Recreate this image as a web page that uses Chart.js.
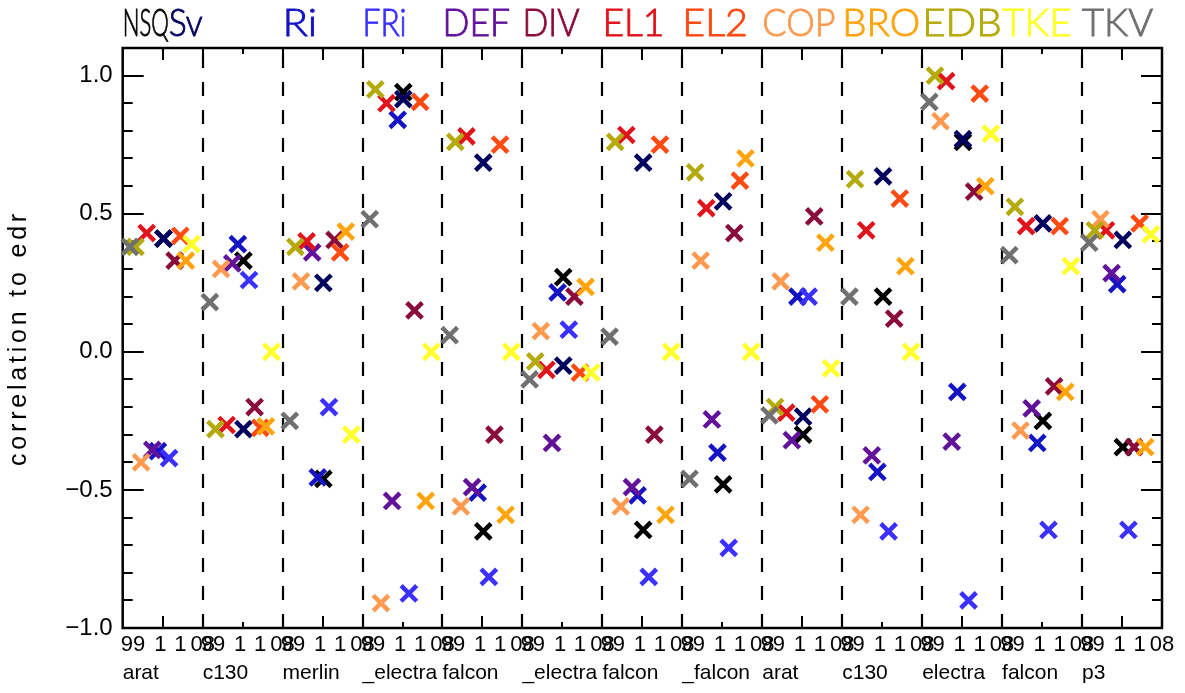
<!DOCTYPE html>
<html>
<head>
<meta charset="utf-8">
<script src="https://cdn.jsdelivr.net/npm/chart.js@4.4.1/dist/chart.umd.min.js"></script>
<style>
  body { margin: 0; background: #fff; }
  canvas { display: block; }
</style>
</head>
<body>
<canvas id="grafica" width="1185" height="693"></canvas>
<script>
// Grupos de vuelos (eje x)
var groupNames = ['arat', 'c130', 'merlin', '_electra', 'falcon', '_electra', 'falcon',
                  '_falcon', 'arat', 'c130', 'electra', 'falcon', 'p3'];
// Etiquetas de las marcas dentro de cada grupo
var subLabels = ['99', '1', '1', '08'];
var yTitle = 'correlation to edr';

var seriesNames = ['NSQ', 'Sv', 'Ri', 'FRi', 'DEF', 'DIV', 'EL1', 'EL2', 'COP', 'BRO', 'EDB', 'TKE', 'TKV'];
var seriesColors = ['#000000', '#00005e', '#1414c4', '#3a30ff', '#62129a', '#8a0c3a', '#e0141c',
                    '#ff4a12', '#ff9a50', '#ffa40a', '#b4aa0c', '#ffff2a', '#707070'];

// Correlacion con edr, un valor por grupo
var NSQ = [0.41, 0.33, -0.46, 0.94, -0.65, 0.27, -0.645, -0.48, -0.30, 0.20, 0.76, -0.25, -0.345];
var Sv  = [0.41, -0.28, 0.25, 0.915, 0.685, -0.05, 0.685, 0.545, -0.235, 0.635, 0.77, 0.465, 0.405];
var Ri  = [-0.36, 0.39, -0.455, 0.84, -0.51, 0.215, -0.52, -0.365, 0.20, -0.435, -0.145, -0.33, 0.245];
var FRi = [-0.385, 0.26, -0.20, -0.875, -0.815, 0.08, -0.815, -0.71, 0.20, -0.65, -0.90, -0.645, -0.645];
var DEF = [-0.355, 0.32, 0.36, -0.54, -0.49, -0.33, -0.49, -0.245, -0.32, -0.375, -0.325, -0.205, 0.285];
var DIV = [0.33, -0.20, 0.405, 0.15, -0.30, 0.20, -0.30, 0.43, 0.49, 0.12, 0.58, -0.125, -0.345];
var EL1 = [0.43, -0.265, 0.40, 0.90, 0.78, -0.065, 0.785, 0.52, -0.22, 0.44, 0.98, 0.455, 0.44];
var EL2 = [0.42, -0.275, 0.36, 0.905, 0.75, -0.075, 0.75, 0.62, -0.19, 0.555, 0.935, 0.455, 0.465];
var COP = [-0.40, 0.30, 0.255, -0.91, -0.56, 0.075, -0.56, 0.33, 0.255, -0.59, 0.835, -0.285, 0.48];
var BRO = [0.33, -0.27, 0.435, -0.54, -0.59, 0.235, -0.59, 0.70, 0.395, 0.31, 0.60, -0.145, -0.345];
var EDB = [0.38, -0.28, 0.38, 0.95, 0.76, -0.035, 0.76, 0.65, -0.20, 0.625, 1.0, 0.525, 0.44];
var TKE = [0.39, 0.0, -0.30, 0.0, 0.0, -0.075, 0.0, 0.0, -0.06, 0.0, 0.79, 0.31, 0.425];
var TKV = [0.38, 0.18, -0.25, 0.48, 0.06, -0.10, 0.055, -0.46, -0.23, 0.20, 0.905, 0.35, 0.395];

var seriesValues = [NSQ, Sv, Ri, FRi, DEF, DIV, EL1, EL2, COP, BRO, EDB, TKE, TKV];
// posicion de cada variable dentro del grupo (0 = izquierda)
var seriesSlot = [6, 6, 5, 7, 4, 8, 3, 9, 2, 10, 1, 11, 0];

var datasets = seriesNames.map(function(name, i) {
    return {
        label: name,
        data: seriesValues[i].map(function(v, g) {
            return { x: g + 0.09 + seriesSlot[i] * 0.07, y: v };
        }),
        pointStyle: 'crossRot',
        pointRadius: 11,
        pointBorderWidth: 4.5,
        borderColor: seriesColors[i],
        backgroundColor: seriesColors[i],
        showLine: false,
        clip: false,
        order: -i
    };
});

// Ejes estilo IDL: marco, marcas hacia dentro y separadores punteados
var axesPlugin = {
    id: 'ejes',
    beforeDatasetsDraw: function(chart) {
        var ctx = chart.ctx, a = chart.chartArea;
        var xs = chart.scales.x, ys = chart.scales.y;
        ctx.save();
        ctx.strokeStyle = '#000';

        // separadores entre grupos
        ctx.lineWidth = 2.2;
        ctx.setLineDash([14, 14]);
        for (var g = 1; g < groupNames.length; g++) {
            var px = Math.round(xs.getPixelForValue(g));
            ctx.beginPath();
            ctx.lineDashOffset = -6;
            ctx.moveTo(px, a.top);
            ctx.lineTo(px, a.bottom);
            ctx.stroke();
        }
        ctx.setLineDash([]);

        // marcas del eje x (arriba y abajo)
        ctx.lineWidth = 2;
        for (var k = 1; k < groupNames.length * 2; k++) {
            var len = (k % 4 === 3) ? 6 : 12;
            var tx = Math.round(xs.getPixelForValue(k / 2));
            ctx.beginPath();
            ctx.moveTo(tx, a.top); ctx.lineTo(tx, a.top + len);
            ctx.moveTo(tx, a.bottom); ctx.lineTo(tx, a.bottom - len);
            ctx.stroke();
        }

        // marcas del eje y (izquierda y derecha)
        for (var j = -10; j <= 11; j++) {
            var ylen = (j % 5 === 0) ? 21 : 10;
            var ty = Math.round(ys.getPixelForValue(j / 10));
            ctx.beginPath();
            ctx.moveTo(a.left, ty); ctx.lineTo(a.left + ylen, ty);
            ctx.moveTo(a.right, ty); ctx.lineTo(a.right - ylen, ty);
            ctx.stroke();
        }

        // marco
        ctx.lineWidth = 2.5;
        ctx.strokeRect(a.left, a.top, a.right - a.left, a.bottom - a.top);
        ctx.restore();
    },
    afterDraw: function(chart) {
        var ctx = chart.ctx, a = chart.chartArea, xs = chart.scales.x;
        ctx.save();
        ctx.fillStyle = '#000';
        ctx.textBaseline = 'alphabetic';

        // titulo del eje y
        ctx.save();
        ctx.translate(19, (a.top + a.bottom) / 2);
        ctx.rotate(-Math.PI / 2);
        ctx.font = '25px "Liberation Sans"';
        ctx.letterSpacing = '3.8px';
        ctx.textAlign = 'center';
        ctx.textBaseline = 'middle';
        ctx.fillText(yTitle, 0, 0);
        ctx.restore();

        // etiquetas de las marcas y nombres de los grupos
        var subPos = [0.13, 0.47, 0.72, 1.0];
        ctx.font = '22px "Liberation Sans"';
        ctx.textAlign = 'center';
        for (var g = 0; g < groupNames.length; g++) {
            for (var s = 0; s < subLabels.length; s++) {
                ctx.fillText(subLabels[s], xs.getPixelForValue(g + subPos[s]), a.bottom + 23);
            }
        }
        ctx.font = '21px "Liberation Sans"';
        ctx.textAlign = 'left';
        for (var g2 = 0; g2 < groupNames.length; g2++) {
            ctx.fillText(groupNames[g2], xs.getPixelForValue(g2), a.bottom + 51);
        }

        // leyenda de colores arriba
        var legendWidth = [46, 34, 34.5, 44, 67.5, 57, 62, 65.6, 73.3, 78, 79.6, 69.5, 71];
        var legendSlot = [0, 0, 2, 3, 4, 5, 6, 7, 8, 9, 10, 11, 12];
        ctx.font = '300 38px Lato';
        ctx.lineWidth = 0.9;
        for (var i = 0; i < seriesNames.length; i++) {
            var x0 = xs.getPixelForValue(legendSlot[i]);
            if (i === 1) x0 += legendWidth[0];
            var m = ctx.measureText(seriesNames[i]).width;
            ctx.save();
            ctx.translate(x0, 36);
            ctx.scale(legendWidth[i] / m, 1);
            ctx.fillStyle = seriesColors[i];
            ctx.strokeStyle = seriesColors[i];
            ctx.fillText(seriesNames[i], 0, 0);
            ctx.strokeText(seriesNames[i], 0, 0);
            ctx.restore();
        }
        ctx.restore();
    }
};

new Chart(document.getElementById('grafica'), {
    type: 'scatter',
    data: { datasets: datasets },
    options: {
        responsive: false,
        animation: false,
        layout: { padding: { top: 48, right: 23, left: 0, bottom: 0 } },
        plugins: { legend: { display: false }, tooltip: { enabled: false } },
        scales: {
            x: {
                type: 'linear', min: 0, max: groupNames.length,
                ticks: { display: false },
                grid: { display: false, drawTicks: false },
                border: { display: false },
                afterFit: function(s) { s.height = 65; }
            },
            y: {
                min: -1.0, max: 1.1,
                ticks: {
                    stepSize: 0.5,
                    padding: 10,
                    color: '#000',
                    font: { family: 'Liberation Sans', size: 24 },
                    callback: function(v) {
                        if (Math.abs(v * 2 - Math.round(v * 2)) > 1e-6) return null;
                        return (v < 0 ? '\u2212' : '') + Math.abs(v).toFixed(1);
                    }
                },
                grid: { display: false, drawTicks: false },
                border: { display: false },
                afterFit: function(s) { s.width = 122.7; }
            }
        }
    },
    plugins: [axesPlugin]
});
</script>
</body>
</html>
